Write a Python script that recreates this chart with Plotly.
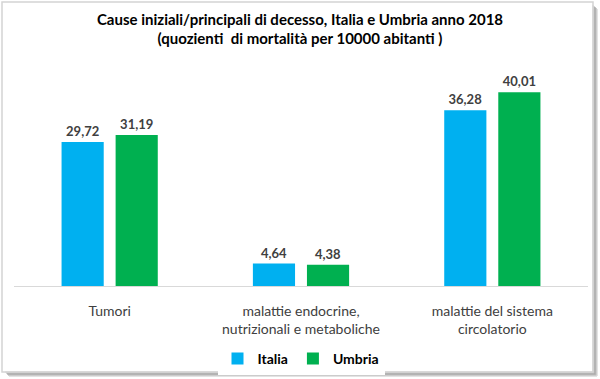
import plotly.graph_objects as go

categories = ["Tumori", "malattie endocrine,<br>nutrizionali e metaboliche", "malattie del sistema<br>circolatorio"]
italia = [29.72, 4.64, 36.28]
umbria = [31.19, 4.38, 40.01]
series_names = ["Italia", "Umbria"]
colors = ["#00B0F0", "#00B050"]

W, H = 600, 379
ml, mr, mt, mb = 14, 12, 68, 93
pw, ph = W - ml - mr, H - mt - mb

def px(x):
    return (x - ml) / pw

def py(y):
    return (H - mb - y) / ph

def fmt(v):
    return f"{v:.2f}".replace(".", ",")

fig = go.Figure()
for name, vals, col in zip(series_names, [italia, umbria], colors):
    fig.add_trace(go.Bar(
        x=categories, y=vals, name=name, marker=dict(color=col, line=dict(width=0)),
        text=[fmt(v) for v in vals], textposition="outside",
        textfont=dict(family="Lato", size=13, color="#404040", weight="bold"),
        cliponaxis=False,
    ))

shapes = []
# frame shadow
for i, c in enumerate(["#d0d0d0", "#b0b0b0", "#8f8f8f", "#9f9f9f", "#c8c8c8"]):
    shapes.append(dict(type="line", xref="paper", yref="paper",
                       x0=px(593 + i), x1=px(593 + i), y0=py(5 + i), y1=py(372 + i),
                       line=dict(color=c, width=1)))
    shapes.append(dict(type="line", xref="paper", yref="paper",
                       x0=px(5 + i), x1=px(593 + i), y0=py(372 + i), y1=py(372 + i),
                       line=dict(color=c, width=1)))
shapes.append(dict(type="rect", xref="paper", yref="paper",
                   x0=px(2), x1=px(593), y0=py(2), y1=py(372),
                   line=dict(color="#d4d4d4", width=1.5)))

fig.update_layout(
    width=W, height=H,
    margin=dict(l=ml, r=mr, t=mt, b=mb),
    paper_bgcolor="white", plot_bgcolor="white",
    barmode="group", bargap=0.435, bargroupgap=0.22,
    title=dict(text="Cause iniziali/principali di decesso, Italia e Umbria anno 2018<br>(quozienti  di mortalità per 10000 abitanti )",
               x=0.5, xanchor="center", y=1 - 24.5 / H, yanchor="middle",
               font=dict(family="Lato", size=15, color="#000000", weight="bold")),
    xaxis=dict(showline=True, linecolor="#d9d9d9", linewidth=1, automargin=False,
               ticks="outside", ticklen=12, tickcolor="rgba(0,0,0,0)",
               tickfont=dict(family="Lato", size=14, color="#404040"), showgrid=False),
    yaxis=dict(range=[0, 45], visible=False, showgrid=False, automargin=False),
    legend=dict(orientation="h", x=0.5, xanchor="center",
                yref="container", y=(H - 343) / H, yanchor="top",
                font=dict(family="Lato", size=14, color="#000000", weight="bold"),
                itemwidth=30, traceorder="normal"),
    shapes=shapes,
    showlegend=True,
)
fig.write_html("out.html", config={"displayModeBar": False},
               post_script="document.body.style.margin='0';document.documentElement.style.overflow='hidden';")
